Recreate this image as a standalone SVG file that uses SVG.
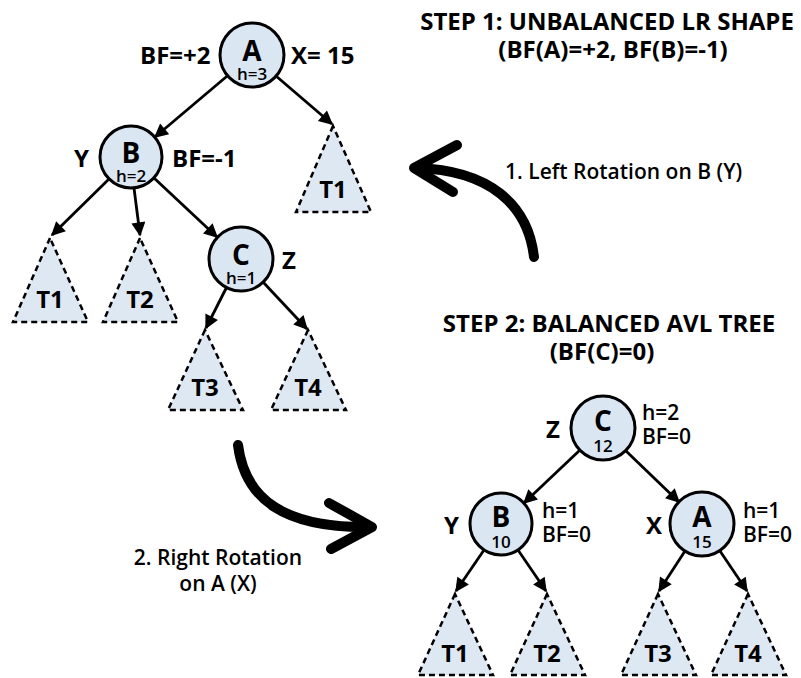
<svg xmlns="http://www.w3.org/2000/svg" width="801" height="678" viewBox="0 0 801 678">
<defs>
<marker id="ah" viewBox="0 0 10 10" refX="9" refY="5" markerWidth="5.5" markerHeight="5" markerUnits="strokeWidth" orient="auto">
<path d="M0,0 L10,5 L0,10 z" fill="#000"/>
</marker>
<style>
text{font-family:"Open Sans","Liberation Sans",sans-serif;fill:#000;font-weight:700}
.node circle{fill:#dbe6f3;stroke:#000;stroke-width:3}
.tri polygon{fill:#dee8f3;stroke:#000;stroke-width:2.5;stroke-dasharray:6 4}
.big{font-size:28px;text-anchor:middle}
.sm{font-size:17px;text-anchor:middle;font-weight:600}
.num{font-size:17px;text-anchor:middle;font-weight:600}
.lbl{font-size:24px}
.tl{font-size:24px;text-anchor:middle}
.hd{font-size:24px;text-anchor:middle}
.cap{font-size:21px;font-weight:600}
.side{font-size:21px;font-weight:600}
.edge line{stroke:#000;stroke-width:2.8;marker-end:url(#ah)}
.curve{fill:none;stroke:#000;stroke-width:10;stroke-linecap:round;stroke-linejoin:round}
</style>
</defs>
<rect width="801" height="678" fill="#fff"/>

<g id="connectors" class="edge">
<line x1="227.5" y1="75.7" x2="155" y2="137"/>
<line x1="276" y1="76" x2="332" y2="124"/>
<line x1="109" y1="179" x2="52" y2="235"/>
<line x1="134" y1="188" x2="140" y2="235"/>
<line x1="154" y1="178" x2="217" y2="237"/>
<line x1="226.5" y1="287.5" x2="206" y2="328"/>
<line x1="263" y1="282" x2="307" y2="329"/>
<line x1="580" y1="450" x2="524" y2="503"/>
<line x1="626" y1="451" x2="679" y2="502"/>
<line x1="484" y1="550" x2="456" y2="591"/>
<line x1="518" y1="550" x2="546" y2="591"/>
<line x1="685" y1="551" x2="659" y2="591"/>
<line x1="720" y1="551" x2="747" y2="591"/>
</g>

<g id="rot1">
<path class="curve" d="M534,257 C528,205 490,170 416,168"/>
<polyline class="curve" points="457,145 414,168 453,192"/>
</g>
<g id="rot2">
<path class="curve" d="M238,445 C245,500 285,528 369,527"/>
<polyline class="curve" points="329,503 372,527 331,549"/>
</g>

<g id="nodeA" class="node">
<circle cx="252" cy="55" r="32"/>
<text class="big" x="252" y="61">A</text>
<text class="sm" x="252" y="80">h=3</text>
</g>
<g id="nodeB" class="node">
<circle cx="131" cy="157" r="31"/>
<text class="big" x="131" y="163">B</text>
<text class="sm" x="131" y="182">h=2</text>
</g>
<g id="nodeC" class="node">
<circle cx="241" cy="259" r="32"/>
<text class="big" x="241" y="265">C</text>
<text class="sm" x="241" y="284">h=1</text>
</g>

<g id="t1a" class="tri"><polygon points="50,238 13,322 88,322"/><text class="tl" x="50" y="308">T1</text></g>
<g id="t2a" class="tri"><polygon points="140,238 103,322 178,322"/><text class="tl" x="140" y="308">T2</text></g>
<g id="t1r" class="tri"><polygon points="333,126 296,212 371,212"/><text class="tl" x="333" y="198">T1</text></g>
<g id="t3a" class="tri"><polygon points="205,330 168,410 243,410"/><text class="tl" x="205" y="396">T3</text></g>
<g id="t4a" class="tri"><polygon points="308,330 271,410 346,410"/><text class="tl" x="308" y="396">T4</text></g>

<text class="lbl" x="140" y="64">BF=+2</text>
<text class="lbl" x="291" y="64">X= 15</text>
<text class="lbl" x="74" y="167">Y</text>
<text class="lbl" x="172" y="167">BF=-1</text>
<text class="lbl" x="282" y="269">Z</text>

<text class="hd" x="607" y="30">STEP 1: UNBALANCED LR SHAPE</text>
<text class="hd" x="613" y="58">(BF(A)=+2, BF(B)=-1)</text>
<text class="cap" x="505" y="179">1. Left Rotation on B (Y)</text>

<text class="hd" x="609" y="332">STEP 2: BALANCED AVL TREE</text>
<text class="hd" x="602" y="360">(BF(C)=0)</text>

<text class="cap" x="218" y="565" text-anchor="middle">2. Right Rotation</text>
<text class="cap" x="218" y="591" text-anchor="middle">on A (X)</text>

<g id="nodeC2" class="node">
<circle cx="603" cy="428" r="32"/>
<text class="big" x="603" y="431">C</text>
<text class="num" x="603" y="452">12</text>
</g>
<g id="nodeB2" class="node">
<circle cx="501" cy="524" r="31"/>
<text class="big" x="501" y="527">B</text>
<text class="num" x="501" y="548">10</text>
</g>
<g id="nodeA2" class="node">
<circle cx="702" cy="524" r="32"/>
<text class="big" x="702" y="527">A</text>
<text class="num" x="702" y="548">15</text>
</g>

<text class="lbl" x="546" y="438">Z</text>
<text class="side" x="642" y="420">h=2</text>
<text class="side" x="642" y="444">BF=0</text>
<text class="lbl" x="444" y="534">Y</text>
<text class="side" x="542" y="518">h=1</text>
<text class="side" x="542" y="542">BF=0</text>
<text class="lbl" x="646" y="534">X</text>
<text class="side" x="743" y="518">h=1</text>
<text class="side" x="743" y="542">BF=0</text>

<g id="t1b" class="tri"><polygon points="455,594 418,675 493,675"/><text class="tl" x="455" y="662">T1</text></g>
<g id="t2b" class="tri"><polygon points="547,594 510,675 585,675"/><text class="tl" x="547" y="662">T2</text></g>
<g id="t3b" class="tri"><polygon points="658,594 621,675 696,675"/><text class="tl" x="658" y="662">T3</text></g>
<g id="t4b" class="tri"><polygon points="748,594 711,675 786,675"/><text class="tl" x="748" y="662">T4</text></g>
</svg>
